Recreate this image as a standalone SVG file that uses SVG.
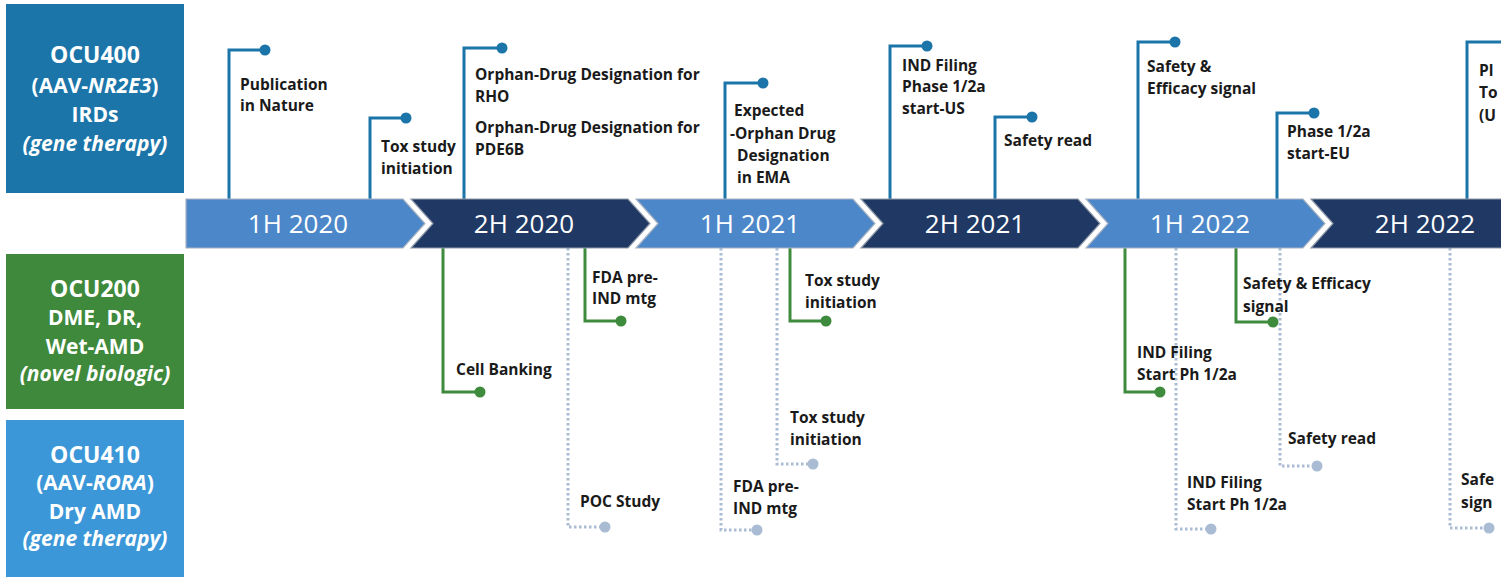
<svg xmlns="http://www.w3.org/2000/svg" width="1501" height="579" viewBox="0 0 1501 579">
<defs>
<style>
.box{stroke:none}
.bt{font-family:"Open Sans","Liberation Sans",sans-serif;font-weight:700;fill:#fff;text-anchor:middle;font-size:21px}
.bt .big{font-size:23px}
.it{font-style:italic}
.seg-l{fill:#4c87c9;stroke:#aab4c2;stroke-width:1.2}
.seg-d{fill:#1f3864;stroke:#8f99a8;stroke-width:1.2}
.st{font-family:"Open Sans","Liberation Sans",sans-serif;font-size:26px;fill:#fff;text-anchor:middle}
.lbl{font-family:"Open Sans","Liberation Sans",sans-serif;font-weight:700;font-size:15.5px;fill:#1a1a1a}
.c-top{fill:none;stroke:#1b75a9;stroke-width:3;marker-end:url(#dotB)}
.c-grn{fill:none;stroke:#3f8b3d;stroke-width:3;marker-end:url(#dotG)}
.c-dot{fill:none;stroke:#a9bcd4;stroke-width:3;stroke-dasharray:2.5 2.5;marker-end:url(#dotL)}
</style>
<marker id="dotB" markerUnits="userSpaceOnUse" markerWidth="14" markerHeight="14" refX="7" refY="7" viewBox="0 0 14 14"><circle cx="7" cy="7" r="5.5" fill="#1b75a9"/></marker>
<marker id="dotG" markerUnits="userSpaceOnUse" markerWidth="14" markerHeight="14" refX="7" refY="7" viewBox="0 0 14 14"><circle cx="7" cy="7" r="5.5" fill="#3f8b3d"/></marker>
<marker id="dotL" markerUnits="userSpaceOnUse" markerWidth="14" markerHeight="14" refX="7" refY="7" viewBox="0 0 14 14"><circle cx="7" cy="7" r="5.5" fill="#a9bcd4"/></marker>
</defs>
<rect width="1501" height="579" fill="#fff"/>

<g id="connectors">
<path class="c-top" d="M229,199 V50 H265"/>
<path class="c-top" d="M370,199 V118 H406"/>
<path class="c-top" d="M464,199 V48 H502"/>
<path class="c-top" d="M725,199 V83 H763"/>
<path class="c-top" d="M890,199 V46 H927"/>
<path class="c-top" d="M995,199 V117 H1032"/>
<path class="c-top" d="M1138,199 V42 H1175"/>
<path class="c-top" d="M1277,199 V113 H1314"/>
<path fill="none" stroke="#1b75a9" stroke-width="3" d="M1467,199 V42 H1510"/>
<path class="c-grn" d="M443,248 V392 H480"/>
<path class="c-grn" d="M585,248 V321 H621"/>
<path class="c-grn" d="M790,248 V321 H826"/>
<path class="c-grn" d="M1125,248 V392 H1160"/>
<path class="c-grn" d="M1236,248 V322 H1273"/>
<path class="c-dot" d="M568,248 V527 H605"/>
<path class="c-dot" d="M721,248 V530 H757"/>
<path class="c-dot" d="M777,248 V464 H813"/>
<path class="c-dot" d="M1176,248 V529 H1211"/>
<path class="c-dot" d="M1280,248 V466 H1317"/>
<path class="c-dot" d="M1450,248 V528 H1489"/>
</g>

<g id="ocu400">
<rect class="box" x="6" y="4" width="178" height="189" fill="#1b75a9"/>
<text class="bt"><tspan class="big" x="95" y="63">OCU400</tspan><tspan x="95" y="93">(AAV-<tspan class="it">NR2E3</tspan>)</tspan><tspan x="95" y="122">IRDs</tspan><tspan class="it" x="95" y="151">(gene therapy)</tspan></text>
</g>
<g id="ocu200">
<rect class="box" x="6" y="254" width="178" height="155" fill="#3e893c"/>
<text class="bt"><tspan class="big" x="95" y="297">OCU200</tspan><tspan x="95" y="325">DME, DR,</tspan><tspan x="95" y="354">Wet-AMD</tspan><tspan class="it" x="95" y="381">(novel biologic)</tspan></text>
</g>
<g id="ocu410">
<rect class="box" x="6" y="420" width="178" height="157" fill="#3b97d8"/>
<text class="bt"><tspan class="big" x="95" y="463">OCU410</tspan><tspan x="95" y="490">(AAV-<tspan class="it">RORA</tspan>)</tspan><tspan x="95" y="519">Dry AMD</tspan><tspan class="it" x="95" y="546">(gene therapy)</tspan></text>
</g>

<g id="seg-1h2020"><path class="seg-l" d="M186,199 H403 L425,223.5 L403,248 H186 Z"/><text class="st" x="298" y="233">1H 2020</text></g>
<g id="seg-2h2020"><path class="seg-d" d="M411,199 H628 L650,223.5 L628,248 H411 L433,223.5 Z"/><text class="st" x="524" y="233">2H 2020</text></g>
<g id="seg-1h2021"><path class="seg-l" d="M636,199 H853 L875,223.5 L853,248 H636 L658,223.5 Z"/><text class="st" x="750" y="233">1H 2021</text></g>
<g id="seg-2h2021"><path class="seg-d" d="M861,199 H1078 L1100,223.5 L1078,248 H861 L883,223.5 Z"/><text class="st" x="975" y="233">2H 2021</text></g>
<g id="seg-1h2022"><path class="seg-l" d="M1086,199 H1303 L1325,223.5 L1303,248 H1086 L1108,223.5 Z"/><text class="st" x="1200" y="233">1H 2022</text></g>
<g id="seg-2h2022"><path class="seg-d" d="M1311,199 H1528 L1550,223.5 L1528,248 H1311 L1333,223.5 Z"/><text class="st" x="1425" y="233">2H 2022</text></g>

<g id="m-publication"><text class="lbl"><tspan x="240" y="90">Publication</tspan><tspan x="240" y="111">in Nature</tspan></text></g>
<g id="m-tox400"><text class="lbl"><tspan x="381" y="152">Tox study</tspan><tspan x="381" y="174">initiation</tspan></text></g>
<g id="m-orphan"><text class="lbl"><tspan x="475" y="80">Orphan-Drug Designation for</tspan><tspan x="475" y="102">RHO</tspan><tspan x="475" y="133">Orphan-Drug Designation for</tspan><tspan x="475" y="155">PDE6B</tspan></text></g>
<g id="m-ema"><text class="lbl"><tspan x="734" y="116">Expected</tspan><tspan x="730" y="139">-Orphan Drug</tspan><tspan x="737" y="161">Designation</tspan><tspan x="737" y="183">in EMA</tspan></text></g>
<g id="m-ind400"><text class="lbl"><tspan x="902" y="71">IND Filing</tspan><tspan x="902" y="92">Phase 1/2a</tspan><tspan x="902" y="114">start-US</tspan></text></g>
<g id="m-safety400"><text class="lbl"><tspan x="1004" y="146">Safety read</tspan></text></g>
<g id="m-eff400"><text class="lbl"><tspan x="1147" y="72">Safety &amp;</tspan><tspan x="1147" y="94">Efficacy signal</tspan></text></g>
<g id="m-eu400"><text class="lbl"><tspan x="1287" y="137">Phase 1/2a</tspan><tspan x="1287" y="159">start-EU</tspan></text></g>
<g id="m-cut400"><text class="lbl"><tspan x="1479" y="76">Pl</tspan><tspan x="1479" y="98">To</tspan><tspan x="1479" y="121">(U</tspan></text></g>

<g id="m-cell"><text class="lbl"><tspan x="456" y="375">Cell Banking</tspan></text></g>
<g id="m-fda200"><text class="lbl"><tspan x="592" y="283">FDA pre-</tspan><tspan x="592" y="304">IND mtg</tspan></text></g>
<g id="m-tox200"><text class="lbl"><tspan x="805" y="286">Tox study</tspan><tspan x="805" y="308">initiation</tspan></text></g>
<g id="m-ind200"><text class="lbl"><tspan x="1137" y="358">IND Filing</tspan><tspan x="1137" y="380">Start Ph 1/2a</tspan></text></g>
<g id="m-eff200"><text class="lbl"><tspan x="1243" y="289">Safety &amp; Efficacy</tspan><tspan x="1243" y="312">signal</tspan></text></g>

<g id="m-poc"><text class="lbl"><tspan x="580" y="507">POC Study</tspan></text></g>
<g id="m-fda410"><text class="lbl"><tspan x="733" y="492">FDA pre-</tspan><tspan x="733" y="514">IND mtg</tspan></text></g>
<g id="m-tox410"><text class="lbl"><tspan x="790" y="423">Tox study</tspan><tspan x="790" y="445">initiation</tspan></text></g>
<g id="m-ind410"><text class="lbl"><tspan x="1187" y="488">IND Filing</tspan><tspan x="1187" y="510">Start Ph 1/2a</tspan></text></g>
<g id="m-safety410"><text class="lbl"><tspan x="1288" y="444">Safety read</tspan></text></g>
<g id="m-cut410"><text class="lbl"><tspan x="1461" y="485">Safe</tspan><tspan x="1461" y="508">sign</tspan></text></g>
</svg>
